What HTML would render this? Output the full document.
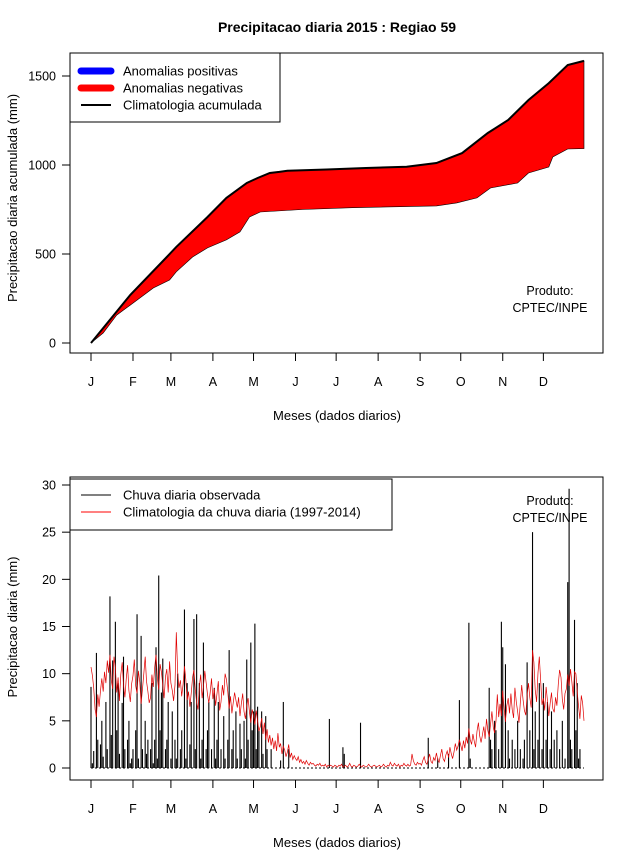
<!DOCTYPE html>
<html><head><meta charset="utf-8"><style>
html,body{margin:0;padding:0;background:#fff;}
svg{display:block;font-family:"Liberation Sans",sans-serif;}
</style></head><body>
<svg id="chart" width="640" height="850" xmlns="http://www.w3.org/2000/svg">
<rect width="640" height="850" fill="#fff"/>
<text x="337" y="32" font-size="14" font-weight="bold" text-anchor="middle">Precipitacao diaria 2015 : Regiao 59</text>
<g id="topPanel"></g>
<g id="botPanel"></g>
</svg>
<script>
const monthLabels = ["J","F","M","A","M","J","J","A","S","O","N","D"];
const monthStartDays = [1,32,60,91,121,152,182,213,244,274,305,335];
// Top panel: cumulative precipitation (mm) read at selected days
const climCumDays = [1,30,57,64,87,101,116,124,133,140,146,175,204,234,256,275,294,309,324,339,353,365];
const climCumMm   = [0,270,483,540,708,815,899,927,955,961,968,975,983,990,1011,1067,1180,1253,1365,1460,1562,1585];
const obsCumDays  = [1,10,20,30,47,59,64,76,87,101,111,118,126,157,194,256,271,286,296,316,324,339,342,353,365];
const obsCumMm    = [0,56,157,213,309,354,400,483,534,579,624,708,736,750,760,770,787,815,871,899,955,989,1045,1090,1092];
const topYTicks = [0,500,1000,1500];
// Bottom panel: observed daily rain (sparse: rainy days only) and daily climatology
const rainDays = [1,2,3,5,6,8,9,10,12,13,15,16,17,19,20,21,22,24,25,26,28,29,30,31,
32,34,35,36,38,39,41,42,43,45,46,47,48,49,50,51,52,53,54,56,57,58,
60,61,63,64,65,67,68,70,71,72,74,75,77,78,79,81,82,83,84,86,87,88,90,
92,93,94,95,97,99,100,102,103,105,106,108,109,111,112,114,115,116,117,119,120,
121,122,123,124,125,127,128,130,131,134,141,143,147,
177,187,188,200,250,257,265,273,
280,281,295,296,297,299,300,302,304,
305,307,309,310,312,314,316,318,320,321,323,325,327,328,329,331,332,334,
335,337,338,340,341,343,345,347,349,351,353,354,355,356,358,359,360,361,362];
const rainMm = [8.6,0.5,1.8,12.2,3,2.5,5,1.2,7,2,18.2,3.5,11.4,15.5,4,9,1.5,6.9,11.8,2,3,5,0.5,1,
2,4,16.3,1,14,2,5,1.5,3,2,9,0.5,3,12.8,1,20.4,4,8,11.6,2,3,7,
1,6,3,1,10,2,4,16.8,1,9,2.5,7,15.8,2,16.3,9,1,3,13.3,2,4,7,2,
8.5,1,3,7,2,5.5,1,3,12.5,2,4,6,1,4.7,2,5,1,11.5,3,13.3,4,
6,15.3,2,6.5,4,6,1.5,5.5,2,2,0.8,7,2,
5.2,2.2,1.5,4.8,3.2,1,1.5,7.2,
15.4,1,8.5,3,2,5,4,2,15.5,
12.8,11,4,1,3,2,5,2,1,3,11.2,4,25,2,6,3,9,2,
9,3,7,2,6,3,4,2,5,1,19.7,29.6,3,2,15.7,4,9,1,2];
const climDaily = [
10.7,9.8,8.5,6.2,5.4,7.8,6.5,8.2,9.5,8.1,10.2,9.0,11.4,10.1,12.0,9.3,8.4,11.8,10.6,8.0,9.6,7.1,9.9,11.2,8.8,7.5,9.4,10.9,8.2,7.0,8.9,
9.8,11.5,8.7,7.9,10.3,9.1,6.8,8.4,10.0,11.8,9.2,8.1,6.9,7.5,9.9,8.6,10.7,12.0,9.5,8.3,11.0,10.2,8.8,7.4,9.7,10.5,8.0,11.3,
9.0,8.2,7.1,8.8,14.4,10.1,8.5,9.3,7.6,8.9,10.8,9.4,7.2,8.1,6.5,7.9,9.6,10.4,8.3,7.0,6.2,8.7,9.9,7.4,8.6,10.3,9.1,7.8,6.9,8.0,9.5,
7.3,8.4,6.6,7.9,9.2,6.1,7.0,8.8,7.7,10.0,9.4,8.1,6.3,7.6,5.8,6.9,8.0,7.2,6.4,7.5,5.5,6.8,7.9,6.0,5.2,6.6,7.4,5.9,4.8,6.2,
5.5,4.6,6.1,5.0,3.9,4.4,5.3,3.6,4.8,3.0,4.1,2.7,3.5,2.4,3.2,2.0,2.9,1.8,3.7,2.2,2.6,1.5,2.3,1.9,1.2,1.7,2.5,1.1,1.6,0.9,1.3,
1.0,0.8,1.2,0.6,0.9,0.5,0.7,0.4,0.8,0.5,0.3,0.6,0.4,0.5,0.3,0.2,0.4,0.3,0.5,0.2,0.3,0.2,0.4,0.1,0.3,0.2,0.3,0.2,0.1,0.3,
0.2,0.1,0.3,0.2,0.4,0.1,0.2,0.3,0.1,0.2,0.5,0.2,0.1,0.3,0.2,0.1,0.2,0.4,0.2,0.1,0.3,0.2,0.1,0.2,0.4,0.2,0.1,0.2,0.3,0.2,0.1,
0.2,0.3,0.1,0.2,0.4,0.2,0.1,0.3,0.2,0.6,0.3,0.2,0.5,0.3,0.2,0.4,0.1,0.3,0.2,0.5,0.3,0.2,0.4,0.2,0.3,1.5,0.8,0.4,0.3,0.6,0.4,
0.5,0.3,0.8,1.2,0.6,0.4,0.9,1.5,0.7,0.5,1.1,0.8,1.6,0.9,0.6,1.3,2.0,1.0,0.7,1.4,1.8,1.1,2.2,1.5,1.0,1.7,2.6,1.9,2.3,3.0,
2.4,1.8,2.9,2.1,3.3,2.6,4.2,3.0,2.5,3.6,2.8,2.2,3.9,4.8,3.4,2.7,3.5,4.4,3.1,5.2,4.0,3.3,4.6,6.0,4.3,3.7,5.0,7.8,5.4,6.8,5.5,
8.2,6.3,4.9,6.6,7.4,5.8,7.9,6.2,5.3,8.5,7.0,6.0,4.8,6.9,8.8,7.2,6.1,5.6,7.8,9.0,7.5,6.4,12.5,11.2,8.3,7.0,10.1,11.8,9.2,6.7,
7.4,6.1,8.6,7.2,5.5,6.8,8.0,6.3,5.9,7.5,6.6,8.9,10.4,9.6,7.3,6.2,7.9,8.4,9.9,8.7,10.5,9.2,7.6,10.2,10.0,8.1,6.5,5.2,7.7,6.9,5.0];
const botYTicks = [0,5,10,15,20,25,30];

const NS = "http://www.w3.org/2000/svg";
function mk(parent, tag, attrs, text){
  const e = document.createElementNS(NS, tag);
  for (const k in attrs) e.setAttribute(k, attrs[k]);
  if (text !== undefined) e.textContent = text;
  parent.appendChild(e);
  return e;
}
const xDay = d => 91 + (d - 1) * (493 / 364);
const yTop = v => 343 - v * (89 / 500);
const yBot = v => 768 - v * (283 / 30);

function drawFrame(g, y0, y1, yScale, ticks, ytitle, ytitleY){
  let e = mk(g,'rect',{x:70,y:y0,width:533,height:y1-y0,fill:'none',stroke:'#000','stroke-width':1});
  
  
  ticks.forEach(t=>{
    const y = yScale(t);
    let l = mk(g,'line',{x1:62,x2:70,y1:y,y2:y,stroke:'#000'});
    
    
    let tx = mk(g,'text',{x:56,y:y+4.5,'font-size':12.5,'text-anchor':'end'},String(t));
    
    
  });
  monthStartDays.forEach((d,i)=>{
    const x = xDay(d);
    let l = mk(g,'line',{x1:x,x2:x,y1:y1,y2:y1+8,stroke:'#000'});
    
    
    let tx = mk(g,'text',{x:x,y:y1+33,'font-size':12.5,'text-anchor':'middle'},monthLabels[i]);
    
    
  });
  let xt = mk(g,'text',{x:337,y:y1+67,'font-size':13,'text-anchor':'middle'},'Meses (dados diarios)');
  
  
  let yt = mk(g,'text',{x:0,y:0,'font-size':13,'text-anchor':'middle',transform:`translate(17,${ytitleY}) rotate(-90)`},ytitle);
  
  
}

// ---- Top panel ----
const topG = document.getElementById('topPanel');
const upperPts = climCumDays.map((d,i)=>`${xDay(d).toFixed(1)},${yTop(climCumMm[i]).toFixed(1)}`);
const lowerPts = obsCumDays.map((d,i)=>`${xDay(d).toFixed(1)},${yTop(obsCumMm[i]).toFixed(1)}`).reverse();
let area = mk(topG,'polygon',{points:upperPts.concat(lowerPts).join(' '),fill:'#ff0000',stroke:'#000','stroke-width':0.6});


let cl = mk(topG,'polyline',{points:upperPts.join(' '),fill:'none',stroke:'#000','stroke-width':2});


drawFrame(topG,53,353,yTop,topYTicks,'Precipitacao diaria acumulada (mm)',198);
let lg = mk(topG,'g',{});


mk(lg,'rect',{x:70,y:53,width:210,height:69,fill:'#fff',stroke:'#000'});
[['#0000ff',7,'Anomalias positivas'],['#ff0000',7,'Anomalias negativas'],['#000',2,'Climatologia acumulada']].forEach((it,i)=>{
  const y = 71 + i*17;
  let s = mk(lg,'line',{x1:81,x2:111,y1:y,y2:y,stroke:it[0],'stroke-width':it[1],'stroke-linecap':it[1]>3?'round':'butt'});
  
  
  let t = mk(lg,'text',{x:123,y:y+4.5,'font-size':13},it[2]);
  
  
});
let p1 = mk(topG,'text',{x:550,y:295,'font-size':12.5,'text-anchor':'middle'},'Produto:');


let p2 = mk(topG,'text',{x:550,y:312,'font-size':12.5,'text-anchor':'middle'},'CPTEC/INPE');



// ---- Bottom panel ----
const botG = document.getElementById('botPanel');
let zl = mk(botG,'line',{x1:xDay(1),x2:xDay(365),y1:yBot(0),y2:yBot(0),stroke:'#000','stroke-dasharray':'2,2'});


rainDays.forEach((d,i)=>{
  const x = xDay(d);
  let b = mk(botG,'line',{x1:x,x2:x,y1:yBot(0),y2:yBot(rainMm[i]),stroke:'#000','stroke-width':1.1});
  
  
});
let rl = mk(botG,'polyline',{points:climDaily.map((v,i)=>`${xDay(i+1).toFixed(1)},${yBot(v).toFixed(1)}`).join(' '),fill:'none',stroke:'#e00000','stroke-width':0.7});


drawFrame(botG,477,780,yBot,botYTicks,'Precipitacao diaria (mm)',627);
let lg2 = mk(botG,'g',{});


mk(lg2,'rect',{x:70,y:479,width:322,height:51,fill:'#fff',stroke:'#000'});
[['#000','Chuva diaria observada'],['#ff0000','Climatologia da chuva diaria (1997-2014)']].forEach((it,i)=>{
  const y = 495 + i*17;
  let s = mk(lg2,'line',{x1:81,x2:111,y1:y,y2:y,stroke:it[0],'stroke-width':1});
  
  
  let t = mk(lg2,'text',{x:123,y:y+4.5,'font-size':13},it[1]);
  
  
});
let p3 = mk(botG,'text',{x:550,y:505,'font-size':12.5,'text-anchor':'middle'},'Produto:');


let p4 = mk(botG,'text',{x:550,y:522,'font-size':12.5,'text-anchor':'middle'},'CPTEC/INPE');


</script>
</body></html>
